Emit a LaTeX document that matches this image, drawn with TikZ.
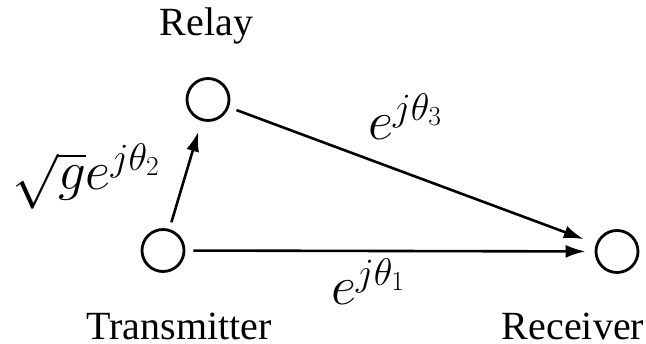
\RequirePackage{fix-cm}
\documentclass[tikz,border=0pt]{standalone}
\usepackage{fontspec}
\setmainfont{Liberation Serif}
\usetikzlibrary{arrows.meta}
\tikzset{
  station/.style={circle,draw,line width=2.8pt,minimum size=42pt,inner sep=0pt},
  link/.style={line width=2.6pt,-{Latex[length=20pt,width=13pt]}},
  stationlabel/.style={inner sep=0pt,anchor=base,font=\fontsize{40}{44}\selectfont},
  gainlabel/.style={inner sep=0pt,anchor=base,font=\fontsize{55}{60}\selectfont}
}
\begin{document}
\begin{tikzpicture}[x=1pt,y=-1pt]
\useasboundingbox (0,0) rectangle (646,344);
\node[station] (R) at (208,99.5) {};
\node[station] (T) at (163,250.5) {};
\node[station] (X) at (617,251.5) {};
\node[stationlabel] (lR) at (206.5,36) {Relay};
\node[stationlabel] (lT) at (179,339.5) {Transmitter};
\node[stationlabel] (lX) at (573,339.5) {Receiver};
\draw[link,shorten <=7pt,shorten >=11pt] (T) -- (R);
\draw[link,shorten <=8pt,shorten >=9pt] (T) -- (X);
\draw[link,shorten <=8pt,shorten >=13pt] (R) -- (X);
\node[gainlabel] (g3) at (405,140) {$e^{j\theta_3}$};
\node[gainlabel] (g1) at (368,305) {$e^{j\theta_1}$};
\node[gainlabel] (g2) at (86,190) {$\sqrt{g}e^{j\theta_2}$};
\end{tikzpicture}
\end{document}
